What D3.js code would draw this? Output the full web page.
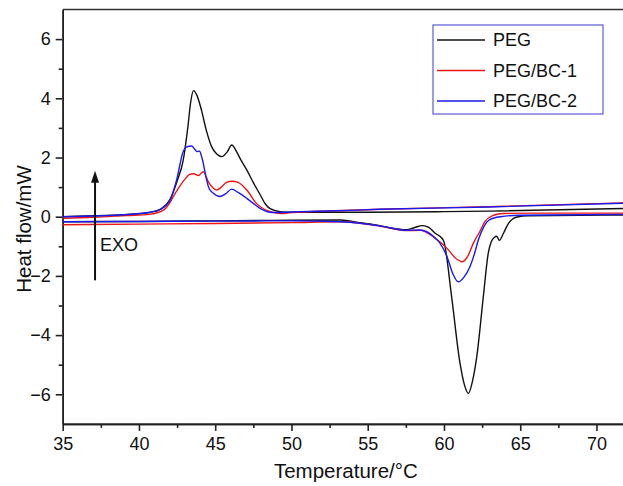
<!DOCTYPE html>
<html>
<head>
<meta charset="utf-8">
<script src="https://cdn.jsdelivr.net/npm/d3@7"></script>
<style>
  body { margin: 0; background: #fff; }
  svg { display: block; font-family: 'Liberation Sans', Arial, sans-serif; }
</style>
</head>
<body>
<svg id="chart"></svg>
<script>
// DSC curves, temperature in °C, heat flow in mW (exo up)
const seriesNames = ['PEG', 'PEG/BC-1', 'PEG/BC-2'];
const seriesColors = ['#111111', '#ee1515', '#1a1aee'];

const tempTicks = [35, 40, 45, 50, 55, 60, 65, 70];
const tempMinorTicks = [37.5, 42.5, 47.5, 52.5, 57.5, 62.5, 67.5];
const flowTicks = [-6, -4, -2, 0, 2, 4, 6];
const flowMinorTicks = [-5, -3, -1, 1, 3, 5];

const pegCooling = [
  [35, 0.0], [37, 0.03], [39, 0.07], [40, 0.1], [40.7, 0.14], [41.4, 0.25], [42.0, 0.55],
  [42.5, 1.2], [42.9, 1.9], [43.2, 3.0], [43.4, 3.9], [43.57, 4.26], [43.8, 4.1], [44.1, 3.6],
  [44.4, 2.95], [44.77, 2.36], [45.1, 2.12], [45.43, 2.03], [45.8, 2.2], [46.08, 2.42],
  [46.4, 2.2], [46.7, 1.9], [47.07, 1.58], [47.5, 1.15], [47.94, 0.75], [48.3, 0.42],
  [48.6, 0.27], [49.25, 0.17], [50, 0.15], [55, 0.15], [60, 0.17], [63, 0.19], [72, 0.28]
];
const pegHeating = [
  [35, -0.17], [40, -0.16], [45, -0.14], [50, -0.12], [53.2, -0.11], [54.5, -0.2],
  [55.8, -0.3], [56.5, -0.38], [57.55, -0.44], [58.0, -0.38], [58.6, -0.3], [59.0, -0.36],
  [59.4, -0.55], [59.85, -0.72], [60.0, -0.85], [60.5, -2.7], [61.05, -4.95], [61.35, -5.7],
  [61.6, -5.97], [61.85, -5.6], [62.15, -4.73], [62.58, -2.7], [62.9, -1.24], [63.1, -0.85],
  [63.3, -0.7], [63.46, -0.66], [63.63, -0.8], [63.9, -0.56], [64.2, -0.25], [64.5, -0.08],
  [64.8, -0.01], [65.5, 0.03], [72, 0.06]
];

const bc1Cooling = [
  [35, -0.05], [37, -0.02], [39.2, 0.04], [40.7, 0.08], [41.6, 0.22], [42.0, 0.45],
  [42.25, 0.68], [42.7, 1.05], [43.1, 1.32], [43.3, 1.42], [43.57, 1.45], [43.9, 1.39],
  [44.22, 1.52], [44.55, 1.18], [44.88, 0.96], [45.1, 0.9], [45.4, 1.0], [45.75, 1.16],
  [46.1, 1.2], [46.5, 1.16], [47.07, 0.9], [47.7, 0.45], [48.6, 0.17], [49.25, 0.11],
  [50, 0.14], [53, 0.2], [55.8, 0.25], [63, 0.34], [72, 0.47]
];
const bc1Heating = [
  [35, -0.27], [40, -0.25], [45, -0.23], [50, -0.2], [53.2, -0.17], [54.5, -0.22],
  [55.8, -0.32], [56.5, -0.39], [57.55, -0.47], [58.43, -0.46], [59.3, -0.68], [59.7, -0.84],
  [60.2, -1.07], [60.8, -1.42], [61.2, -1.52], [61.6, -1.3], [61.92, -0.9], [62.35, -0.5],
  [62.7, -0.15], [63.2, 0.04], [63.9, 0.11], [66, 0.12], [72, 0.12]
];

const bc2Cooling = [
  [35, 0.0], [37.45, 0.03], [40.07, 0.11], [40.7, 0.15], [41.4, 0.25], [42.04, 0.56],
  [42.47, 1.24], [42.9, 2.2], [43.13, 2.36], [43.46, 2.39], [43.7, 2.25], [43.8, 2.2],
  [43.96, 2.22], [44.15, 1.95], [44.44, 1.24], [44.6, 0.95], [44.88, 0.79], [45.3, 0.68],
  [45.7, 0.78], [46.08, 0.93], [46.5, 0.82], [47.07, 0.62], [47.5, 0.45], [47.94, 0.28],
  [48.8, 0.14], [50, 0.16], [53, 0.2], [55.8, 0.25], [63, 0.33], [72, 0.46]
];
const bc2Heating = [
  [35, -0.17], [40, -0.16], [45, -0.15], [50, -0.14], [53.2, -0.17], [54.5, -0.22],
  [55.8, -0.31], [56.5, -0.38], [57.55, -0.46], [58.43, -0.45], [59.3, -0.66], [59.7, -0.87],
  [60.2, -1.35], [60.6, -1.95], [60.94, -2.2], [61.3, -2.05], [61.7, -1.69], [62.0, -1.25],
  [62.25, -0.79], [62.6, -0.35], [63.0, -0.1], [63.7, 0.0], [65, 0.05], [72, 0.08]
];

const seriesCurves = [
  [pegHeating, pegCooling],
  [bc1Heating, bc1Cooling],
  [bc2Heating, bc2Cooling]
];

// "EXO" arrow, in data units
const exoArrow = { temp: 37.12, from: -2.15, to: 1.55 };

const width = 623;
const height = 486;
const plot = { left: 62.7, right: 627, top: 9.5, bottom: 423.9 };

const svg = d3.select('#chart').attr('width', width).attr('height', height);

const xScale = d3.scaleLinear().domain([35, 72]).range([plot.left, plot.right]);
const yScale = d3.scaleLinear().domain([-7, 7]).range([plot.bottom, plot.top]);

svg
  .append('defs')
  .append('clipPath')
  .attr('id', 'plotClip')
  .append('rect')
  .attr('x', plot.left)
  .attr('y', plot.top)
  .attr('width', plot.right - plot.left)
  .attr('height', plot.bottom - plot.top);

// frame (top and right)
svg
  .append('path')
  .attr('d', `M${plot.left},${plot.top}H${plot.right}V${plot.bottom}`)
  .attr('fill', 'none')
  .attr('stroke', '#333')
  .attr('stroke-width', 1.5);

const xAxis = d3.axisBottom(xScale).tickValues(tempTicks).tickSize(7).tickSizeOuter(0).tickPadding(6).tickFormat(d3.format('d'));
const xMinor = d3.axisBottom(xScale).tickValues(tempMinorTicks).tickSize(4).tickSizeOuter(0).tickFormat('');

const yAxis = d3.axisLeft(yScale).tickValues(flowTicks).tickSize(7).tickSizeOuter(0).tickPadding(5).tickFormat(d3.format('d'));
const yMinor = d3.axisLeft(yScale).tickValues(flowMinorTicks).tickSize(4).tickSizeOuter(0).tickFormat('');

const styleAxis = (g) => {
  g.attr('color', '#222').attr('font-size', 18).attr('font-family', null);
  g.selectAll('path, line').attr('stroke-width', 1.6);
  g.selectAll('text').attr('fill', '#111');
};

svg.append('g').attr('transform', `translate(0, ${plot.bottom})`).call(xMinor).call(styleAxis);
svg.append('g').attr('transform', `translate(0, ${plot.bottom})`).call(xAxis).call(styleAxis);
svg.append('g').attr('transform', `translate(${plot.left}, 0)`).call(yMinor).call(styleAxis);
svg.append('g').attr('transform', `translate(${plot.left}, 0)`).call(yAxis).call(styleAxis);

svg
  .append('text')
  .attr('x', (plot.left + width) / 2 + 3)
  .attr('y', 478)
  .attr('text-anchor', 'middle')
  .attr('font-size', 20.5)
  .attr('fill', '#111')
  .text('Temperature/°C');

svg
  .append('text')
  .attr('transform', 'translate(31, 229) rotate(-90)')
  .attr('text-anchor', 'middle')
  .attr('font-size', 20.5)
  .attr('fill', '#111')
  .text('Heat flow/mW');

// curves
const line = d3
  .line()
  .x((d) => xScale(d[0]))
  .y((d) => yScale(d[1]))
  .curve(d3.curveMonotoneX);

const lines = svg.append('g').attr('class', 'lines').attr('clip-path', 'url(#plotClip)');

seriesCurves.forEach((curves, i) => {
  lines
    .selectAll(null)
    .data(curves)
    .enter()
    .append('path')
    .attr('d', (d) => line(d))
    .attr('fill', 'none')
    .attr('stroke', seriesColors[i])
    .attr('stroke-width', 1.4)
    .attr('stroke-linejoin', 'round');
});

// EXO arrow
const ax = xScale(exoArrow.temp);
const aTop = yScale(exoArrow.to);
svg
  .append('line')
  .attr('x1', ax)
  .attr('x2', ax)
  .attr('y1', yScale(exoArrow.from))
  .attr('y2', aTop + 10)
  .attr('stroke', '#111')
  .attr('stroke-width', 2);
svg
  .append('path')
  .attr('d', `M${ax},${aTop}L${ax - 4},${aTop + 12}L${ax + 4},${aTop + 12}Z`)
  .attr('fill', '#111');
svg
  .append('text')
  .attr('x', ax + 5)
  .attr('y', 251)
  .attr('font-size', 18)
  .attr('fill', '#111')
  .text('EXO');

// legend
const legend = svg.append('g').attr('class', 'legend').attr('transform', 'translate(433, 25)');
legend
  .append('rect')
  .attr('width', 170)
  .attr('height', 89)
  .attr('fill', '#fff')
  .attr('stroke', '#5a5ad8')
  .attr('stroke-width', 1.2);

const items = legend
  .selectAll('.item')
  .data(seriesNames)
  .enter()
  .append('g')
  .attr('class', 'item')
  .attr('transform', (d, i) => `translate(0, ${15 + i * 30.5})`);

items
  .append('line')
  .attr('x1', 4)
  .attr('x2', 52)
  .attr('stroke', (d, i) => seriesColors[i])
  .attr('stroke-width', 1.5);

items
  .append('text')
  .attr('x', 60)
  .attr('dy', '0.35em')
  .attr('font-size', 18)
  .attr('fill', '#111')
  .text((d) => d);
</script>
</body>
</html>
